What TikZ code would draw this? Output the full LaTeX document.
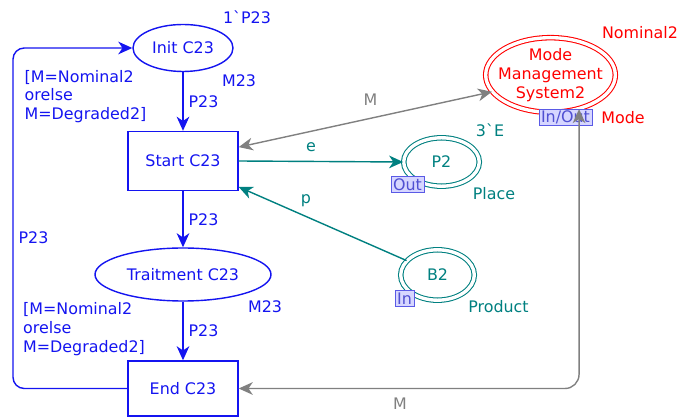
\documentclass[tikz,border=0pt]{standalone}
\usepackage{fontspec}
\setmainfont{DejaVu Sans}
\usetikzlibrary{arrows.meta, positioning, calc, shapes.geometric}
\definecolor{cpnblue}{RGB}{20, 20, 240}
\definecolor{cpnteal}{RGB}{0, 128, 128}
\definecolor{cpnred}{RGB}{255, 0, 0}
\definecolor{cpngray}{RGB}{128, 128, 128}
\definecolor{portfill}{RGB}{214, 214, 255}
\definecolor{portdraw}{RGB}{90, 90, 230}
\definecolor{porttext}{RGB}{80, 80, 210}
\newcommand{\cpnsize}{\fontsize{11.3}{13.3}\selectfont}

\begin{document}
\begin{tikzpicture}[
    font=\cpnsize,
    place/.style={
        ellipse, draw=cpnblue, text=cpnblue, line width=1pt, inner sep=1pt
    },
    trans/.style={
        rectangle, draw=cpnblue, text=cpnblue, line width=1pt,
        minimum width=2.75cm
    },
    socket/.style={
        ellipse, draw=#1, text=#1, double, double distance=2.4pt,
        line width=0.75pt, inner sep=0pt, align=center
    },
    port/.style={
        rectangle, draw=portdraw, fill=portfill, text=porttext, line width=0.6pt,
        inner xsep=1.5pt, inner ysep=0pt, minimum height=0.4cm
    },
    insc/.style={text=#1, inner sep=1pt, align=left},
    arc/.style={-{Stealth[length=10pt, width=9pt, inset=3pt]}, line width=1pt, draw=#1},
    biarc/.style={{Stealth[length=10pt, width=9pt, inset=3pt]}-{Stealth[length=10pt, width=9pt, inset=3pt]},
        line width=1pt, draw=#1}
]
\useasboundingbox (0, 0) rectangle (17, 10.45);

% Places and transitions (left column)
\node[place, minimum width=2.5cm, minimum height=1.175cm] (init)  at (4.575, 9.25)  {Init C23};
\node[trans, minimum height=1.475cm]                      (start) at (4.575, 6.425) {Start C23};
\node[place, minimum width=4.4cm, minimum height=1.325cm] (trait) at (4.575, 3.5875) {Traitment C23};
\node[trans, minimum height=1.375cm]                      (endc)  at (4.575, 0.7375) {End C23};

% Socket places (right)
\node[socket=cpnred, minimum width=3.24cm, minimum height=1.86cm, inner xsep=-0.167cm]
      (mms) at (13.7625, 8.575) {Mode\\Management\\System2};
\node[socket=cpnteal, minimum width=1.89cm, minimum height=1.21cm] (p2) at (11.0375, 6.4) {P2};
\node[socket=cpnteal, minimum width=1.84cm, minimum height=1.26cm] (b2) at (10.9375, 3.575) {B2};

% Port tags
\node[port] (mmsport) at (14.1375, 7.5125) {In/Out};
\node[port] (p2port)  at (10.1875, 5.8375) {Out};
\node[port] (b2port)  at (10.1125, 2.99)   {In};

% Initial markings, colour sets
\node[insc=cpnblue] (initmark) at (6.175, 10.025) {1\textasciigrave P23};
\node[insc=cpnblue] (initcs)   at (5.975, 8.425)  {M23};
\node[insc=cpnblue] (traitcs)  at (6.625, 2.775)  {M23};
\node[insc=cpnred]  (mmsmark)  at (16.0, 9.625)   {Nominal2};
\node[insc=cpnred]  (mmscs)    at (15.575, 7.5)   {Mode};
\node[insc=cpnteal] (p2mark)   at (12.25, 7.2)    {3\textasciigrave E};
\node[insc=cpnteal] (p2cs)     at (12.35, 5.6)    {Place};
\node[insc=cpnteal] (b2cs)     at (12.4625, 2.775) {Product};

% Guards
\node[insc=cpnblue] (guardstart) at (2.1375, 8.0375) {[M=Nominal2\\orelse\\M=Degraded2]};
\node[insc=cpnblue] (guardend)   at (2.1, 2.225)     {[M=Nominal2\\orelse\\M=Degraded2]};

% Arcs of the main cycle
\draw[arc=cpnblue] (init) -- (start) node[midway, right=2.5pt, insc=cpnblue] (a1) {P23};
\draw[arc=cpnblue] (start) -- (trait) node[midway, right=2.5pt, insc=cpnblue] (a2) {P23};
\draw[arc=cpnblue] (trait) -- (endc) node[midway, right=2.5pt, insc=cpnblue] (a3) {P23};
\coordinate (loopc) at (0.325, 4.5125);
\draw[arc=cpnblue, rounded corners=8pt] (endc.west) -| (loopc) |- (init.west);
\node[insc=cpnblue] (a4) at (0.8375, 4.5125) {P23};

% Arcs to the sockets
\draw[arc=cpnteal] (start.east) -- (p2.west) node[pos=0.44, yshift=10pt, insc=cpnteal] (a5) {e};
\draw[arc=cpnteal] (b2.155) -- (start.-25) node[pos=0.6, yshift=11pt, insc=cpnteal] (a6) {p};
\draw[biarc=cpngray] (start.14) -- (mms.196) node[pos=0.52, yshift=13.3pt, insc=cpngray] (a7) {M};
\draw[biarc=cpngray, rounded corners=10pt] (endc.east) -| (mms.-50)
    node[pos=0.237, yshift=-10.6pt, insc=cpngray] (a8) {M};

\end{tikzpicture}
\end{document}
